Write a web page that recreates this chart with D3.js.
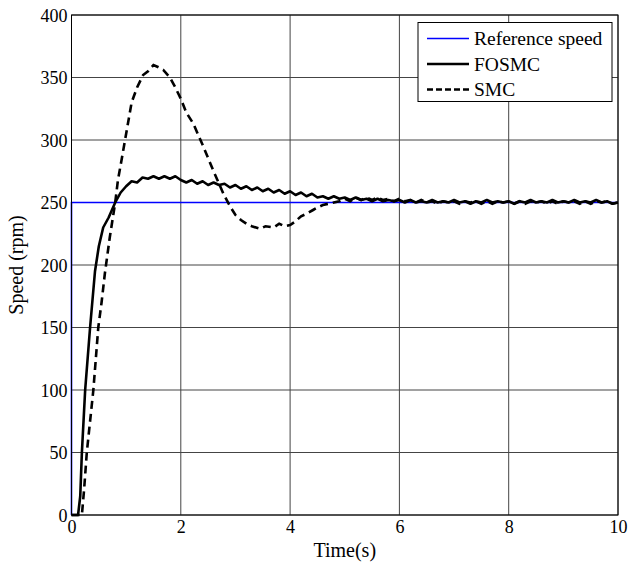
<!DOCTYPE html>
<html>
<head>
<meta charset="utf-8">
<script src="https://cdn.jsdelivr.net/npm/d3@7"></script>
<style>
  body { margin: 0; background: #fff; }
  text { font-family: "Liberation Serif", "Times New Roman", serif; fill: #000; }
</style>
</head>
<body>
<div id="plot"></div>
<script>
// speed response data: [time (s), speed (rpm)]
var refSpeed = [[0, 0], [0, 250], [10, 250]];

var fosmc = [
  [0,0],[0.05,0],[0.12,0],[0.16,15],[0.19,50],[0.25,100],[0.34,150],[0.43,195],
  [0.5,215],[0.58,230],[0.68,238],[0.8,250],[0.9,258],
  [1.0,263],[1.1,267],[1.2,266],[1.3,270],[1.4,269],[1.5,271],[1.6,269],[1.7,271],[1.8,269],[1.9,271],
  [2.0,268],[2.1,266],[2.2,268],[2.3,265],[2.4,267],[2.5,264],[2.6,266],[2.7,264],[2.8,265],[2.9,262],
  [3.0,264],[3.1,261],[3.2,263],[3.3,260],[3.4,262],[3.5,259],[3.6,261],[3.7,258],[3.8,260],[3.9,257],
  [4.0,259],[4.1,256],[4.2,258],[4.3,255],[4.4,257],[4.5,254],[4.6,255],[4.7,253],[4.8,255],[4.9,253],
  [5.0,254],[5.1,252],[5.2,254],[5.3,252],[5.4,253],[5.5,251],[5.6,253],[5.7,251],[5.8,252],[5.9,251],
  [6.0,252],[6.1,250],[6.2,252],[6.3,250],[6.4,251],[6.5,250],[6.6,252],[6.7,250],[6.8,251],[6.9,250],
  [7.0,252],[7.1,250],[7.2,251],[7.3,249],[7.4,251],[7.5,250],[7.6,252],[7.7,250],[7.8,251],[7.9,250],
  [8.0,251],[8.1,249],[8.2,251],[8.3,250],[8.4,252],[8.5,250],[8.6,251],[8.7,250],[8.8,252],[8.9,250],
  [9.0,251],[9.1,250],[9.2,252],[9.3,250],[9.4,251],[9.5,250],[9.6,252],[9.7,250],[9.8,251],[9.9,249],
  [10.0,250]
];

var smc = [
  [0,0],[0.1,0],[0.19,0],[0.23,20],[0.28,50],[0.34,75],[0.40,100],[0.49,150],[0.55,170],[0.61,193],
  [0.70,222],[0.80,250],[0.85,268],[0.92,285],[1.0,305],[1.1,330],[1.2,342],[1.31,352],[1.4,355],
  [1.5,360],[1.6,358],[1.68,356],[1.8,350],[1.9,342],[2.0,333],[2.1,322],[2.23,313],[2.41,295],
  [2.59,276],[2.78,257],[2.9,247],[3.0,240],[3.1,236],[3.2,233],[3.3,231],[3.45,229],[3.55,231],
  [3.7,230],[3.8,233],[3.9,231],[4.0,232],[4.1,235],[4.2,239],[4.3,241],[4.42,244],[4.5,246],
  [4.6,248],[4.7,249],[4.8,250],[4.9,251],
  [5.0,253],[5.1,251],[5.2,254],[5.3,252],[5.4,254],[5.5,252],[5.6,254],[5.7,252],[5.8,253],[5.9,251],
  [6.0,253],[6.1,251],[6.2,252],[6.3,250],[6.4,252],[6.5,250],[6.6,251],[6.7,249],[6.8,251],[6.9,250],
  [7.0,251],[7.1,249],[7.2,251],[7.3,250],[7.4,251],[7.5,249],[7.6,251],[7.7,249],[7.8,251],[7.9,250],
  [8.0,251],[8.1,249],[8.2,251],[8.3,249],[8.4,251],[8.5,250],[8.6,251],[8.7,249],[8.8,251],[8.9,249],
  [9.0,251],[9.1,250],[9.2,251],[9.3,249],[9.4,251],[9.5,249],[9.6,251],[9.7,250],[9.8,251],[9.9,249],
  [10.0,250]
];

var xTicks = [0, 2, 4, 6, 8, 10];
var yTicks = [0, 50, 100, 150, 200, 250, 300, 350, 400];
var legendNames = ["Reference speed", "FOSMC", "SMC"];

// set the dimensions and margins of the graph
const margin = {top: 15, right: 25, bottom: 48, left: 71.5},
    width = 643 - margin.left - margin.right,
    height = 563 - margin.top - margin.bottom;

var svg = d3.select("div#plot")
  .append("svg")
    .attr("width", 643)
    .attr("height", 563)
  .append("g")
    .attr("transform", "translate(" + margin.left + "," + margin.top + ")");

var x = d3.scaleLinear().domain([0, 10]).range([0, width]);
var y = d3.scaleLinear().domain([0, 400]).range([height, 0]);

// grid
svg.append("g")
  .selectAll("line")
  .data(xTicks)
  .enter().append("line")
    .attr("x1", d => x(d)).attr("x2", d => x(d))
    .attr("y1", 0).attr("y2", height)
    .attr("stroke", "#444").attr("stroke-width", 1);
svg.append("g")
  .selectAll("line")
  .data(yTicks)
  .enter().append("line")
    .attr("x1", 0).attr("x2", width)
    .attr("y1", d => y(d)).attr("y2", d => y(d))
    .attr("stroke", "#444").attr("stroke-width", 1);

// axes
var xAxis = svg.append("g")
  .attr("transform", "translate(0," + height + ")")
  .call(d3.axisBottom(x).tickValues(xTicks).tickSize(0).tickPadding(5));
var yAxis = svg.append("g")
  .call(d3.axisLeft(y).tickValues(yTicks).tickSize(0).tickPadding(4));
svg.selectAll(".domain").remove();
svg.selectAll(".tick text")
  .attr("font-family", "Liberation Serif")
  .attr("font-size", 18)
  .attr("fill", "#000");
yAxis.selectAll(".tick text").attr("dy", "0.36em");

// lines
var line = d3.line()
  .x(function(d) { return x(d[0]); })
  .y(function(d) { return y(d[1]); });

svg.append("path")
  .datum(refSpeed)
  .attr("fill", "none")
  .attr("stroke", "#0000ff")
  .attr("stroke-width", 1.6)
  .attr("d", line);

svg.append("path")
  .datum(smc)
  .attr("fill", "none")
  .attr("stroke", "#000")
  .attr("stroke-width", 2.6)
  .attr("stroke-dasharray", "8,5")
  .attr("d", line);

svg.append("path")
  .datum(fosmc)
  .attr("fill", "none")
  .attr("stroke", "#000")
  .attr("stroke-width", 2.6)
  .attr("stroke-linejoin", "round")
  .attr("d", line);

// box
svg.append("rect")
  .attr("x", 0).attr("y", 0)
  .attr("width", width).attr("height", height)
  .attr("fill", "none")
  .attr("stroke", "#000")
  .attr("stroke-width", 1);

// axis labels
svg.append("text")
  .attr("x", width / 2)
  .attr("y", height + 42)
  .attr("text-anchor", "middle")
  .attr("font-size", 20)
  .text("Time(s)");

svg.append("text")
  .attr("transform", "translate(" + (-49) + "," + (height / 2) + ") rotate(-90)")
  .attr("text-anchor", "middle")
  .attr("font-size", 20)
  .text("Speed (rpm)");

// legend
var lg = svg.append("g")
  .attr("transform", "translate(" + (418 - margin.left) + "," + (22.5 - margin.top) + ")");
lg.append("rect")
  .attr("width", 194).attr("height", 79)
  .attr("fill", "#fff")
  .attr("stroke", "#000")
  .attr("stroke-width", 1);

var legendStyle = [
  {color: "#0000ff", w: 1.6, dash: null},
  {color: "#000", w: 2.6, dash: null},
  {color: "#000", w: 2.6, dash: "6,3"}
];
var items = lg.selectAll(".item")
  .data(legendNames)
  .enter().append("g")
    .attr("class", "item")
    .attr("transform", function(d, i) { return "translate(0," + (16 + i * 25.5) + ")"; });
items.append("line")
  .attr("x1", 9).attr("x2", 51)
  .attr("y1", 0).attr("y2", 0)
  .attr("stroke", (d, i) => legendStyle[i].color)
  .attr("stroke-width", (d, i) => legendStyle[i].w)
  .attr("stroke-dasharray", (d, i) => legendStyle[i].dash);
items.append("text")
  .attr("x", 56)
  .attr("y", 0)
  .attr("dy", "0.35em")
  .attr("font-size", 19.5)
  .text(d => d);
</script>
</body>
</html>
